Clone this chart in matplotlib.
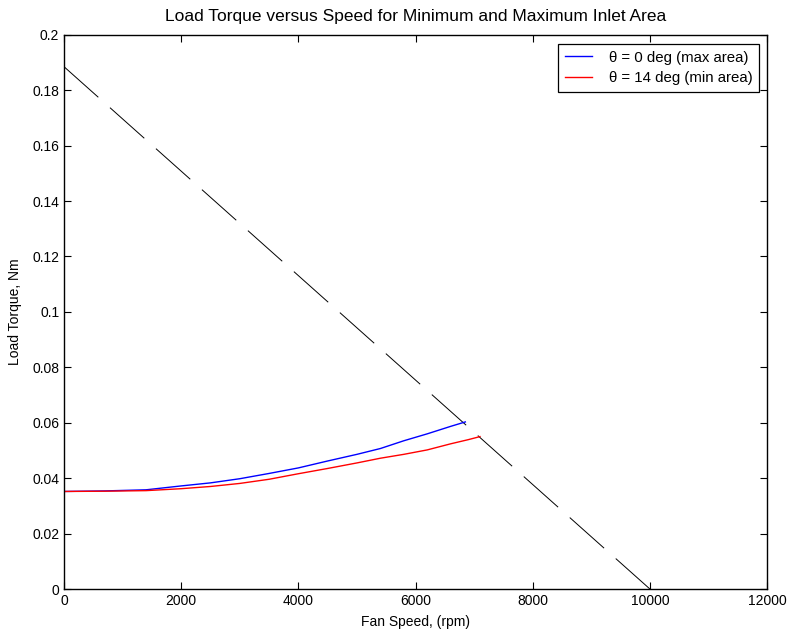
import matplotlib

matplotlib.use("Agg")
import matplotlib.pyplot as plt
from matplotlib.ticker import FuncFormatter

plt.rcParams["font.family"] = ["Liberation Sans", "DejaVu Sans"]
plt.rcParams["font.size"] = 10
plt.rcParams["lines.scale_dashes"] = False

# Load line: straight from stall torque down to zero at 10000 rpm
load_speed = [0, 10000]
load_torque = [0.1885, 0.0]

# theta = 0 deg (max area)
speed_max = [0, 700, 1400, 2000, 2500, 3000, 3500, 4000, 4500, 5000,
             5400, 5800, 6200, 6600, 6850]
torque_max = [0.0352, 0.0354, 0.0358, 0.0372, 0.0383, 0.0398, 0.0417, 0.0437,
              0.0462, 0.0486, 0.0507, 0.0535, 0.0560, 0.0587, 0.0603]

# theta = 14 deg (min area)
speed_min = [0, 700, 1400, 2000, 2500, 3000, 3500, 4000, 4500, 5000,
             5400, 5800, 6200, 6600, 6900, 7100]
torque_min = [0.0352, 0.0353, 0.0355, 0.0362, 0.0370, 0.0381, 0.0396, 0.0416,
              0.0435, 0.0455, 0.0472, 0.0486, 0.0502, 0.0524, 0.0539, 0.0550]

xticks = [0, 2000, 4000, 6000, 8000, 10000, 12000]
yticks = [0, 0.02, 0.04, 0.06, 0.08, 0.1, 0.12, 0.14, 0.16, 0.18, 0.2]

fig = plt.figure(figsize=(7.9, 6.33), dpi=100)
ax = fig.add_axes([0.081, 0.0695, 0.890, 0.8755])

ax.plot(load_speed, load_torque, color="black", lw=0.7, dashes=(33.1, 11.25))
ax.plot(speed_max, torque_max, color="#0000ff", lw=1.0, label="θ = 0 deg (max area)")
ax.plot(speed_min, torque_min, color="#ff0000", lw=1.0, label="θ = 14 deg (min area)")

ax.set_xlim(0, 12000)
ax.set_ylim(0, 0.2)
ax.set_xticks(xticks)
ax.set_yticks(yticks)
ax.yaxis.set_major_formatter(FuncFormatter(lambda v, _: f"{v:g}"))
ax.tick_params(direction="in", length=5, top=True, right=True, width=0.8)
for s in ax.spines.values():
    s.set_linewidth(1.0)

ax.set_xlabel("Fan Speed, (rpm)", labelpad=5)
ax.set_ylabel("Load Torque, Nm", labelpad=7)
ax.set_title("Load Torque versus Speed for Minimum and Maximum Inlet Area",
             pad=10, fontsize=12.5)

leg = ax.legend(loc="upper right", bbox_to_anchor=(0.9885, 0.9835), fancybox=False,
                edgecolor="black", framealpha=1, handlelength=1.8,
                handletextpad=1.1, borderpad=0.45, labelspacing=0.45,
                fontsize=10.8, borderaxespad=0)
leg.get_frame().set_linewidth(0.9)

fig.savefig("out.png", dpi=100)
